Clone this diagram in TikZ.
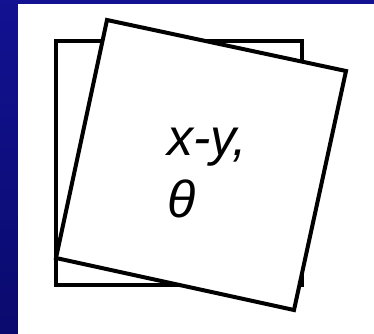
\documentclass[tikz,border=0pt]{standalone}
\usepackage{fontspec}
\setmainfont{Liberation Sans}
\begin{document}
\begin{tikzpicture}[x=1pt,y=-1pt,
  frame/.style={draw=black,line width=4pt,line join=miter},
  lbl/.style={font=\fontsize{52}{62}\selectfont\itshape,inner sep=0pt,anchor=base west}]
\useasboundingbox (0,0) rectangle (374,333);
\begin{scope}
\clip (0,0) rectangle (374,333);
\shade[top color={rgb,255:red,18;green,18;blue,146},bottom color={rgb,255:red,10;green,10;blue,110}] (-2,-2) rectangle (376,335);
\fill[white] (18,4) rectangle (380,340);
\end{scope}
% back rectangle
\draw[frame,fill=white] (55.5,40.5) rectangle (301.5,284.5);
% tilted square
\coordinate (tl) at (107,20);
\coordinate (tr) at (346,71);
\coordinate (br) at (294,310);
\coordinate (bl) at (56,258);
\draw[frame,fill=white] (tl) -- (tr) -- (br) -- (bl) -- cycle;
\node[lbl] (xy) at (167,155) {x-y,};
\node[lbl] (th) at (167,217) {θ};
\end{tikzpicture}
\end{document}
